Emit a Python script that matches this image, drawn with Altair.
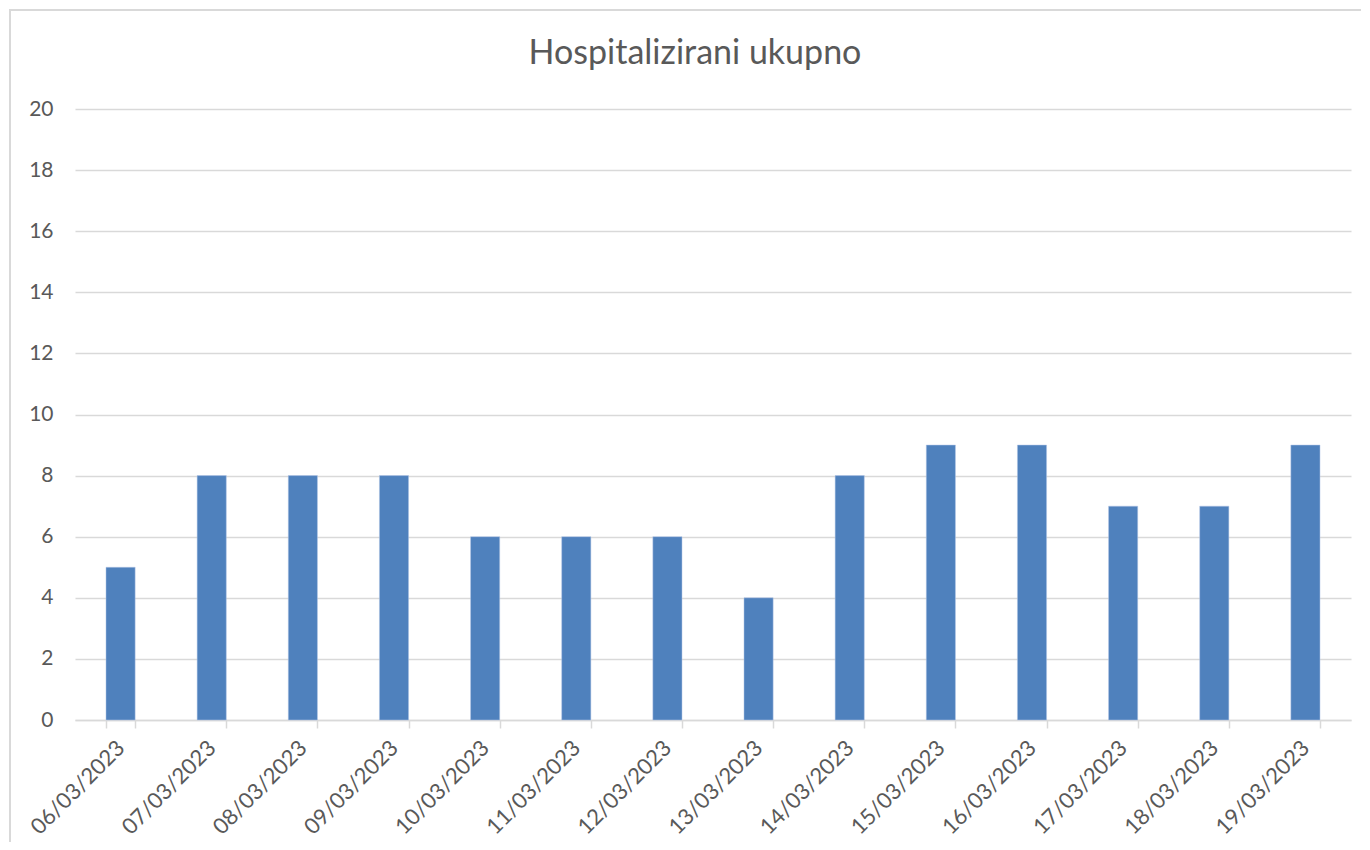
import altair as alt
import pandas as pd

dates = ["06/03/2023", "07/03/2023", "08/03/2023", "09/03/2023", "10/03/2023",
         "11/03/2023", "12/03/2023", "13/03/2023", "14/03/2023", "15/03/2023",
         "16/03/2023", "17/03/2023", "18/03/2023", "19/03/2023"]
values = [5, 8, 8, 8, 6, 6, 6, 4, 8, 9, 9, 7, 7, 9]
title_text = "Hospitalizirani ukupno"

df = pd.DataFrame({"date": dates, "value": values})

FONT = "Lato"
GREY = "#595959"
LINE = "#d9d9d9"

bars = alt.Chart(df).mark_bar(color="#4F81BD", stroke="#b4c7e7", strokeWidth=0.5).encode(
    x=alt.X("date:N", sort=dates, title=None,
            scale=alt.Scale(paddingInner=0.68, paddingOuter=0.34),
            axis=alt.Axis(labelAngle=-45, labelAlign="right", labelBaseline="middle",
                          labelFont=FONT, labelFontSize=22, labelColor=GREY,
                          labelPadding=16, tickBand="extent", ticks=True, tickSize=8,
                          tickColor=LINE, domainColor=LINE, domainWidth=1.5,
                          tickWidth=1.5, grid=False, labelOverlap=False)),
    y=alt.Y("value:Q", title=None,
            scale=alt.Scale(domain=[0, 20], nice=False),
            axis=alt.Axis(values=list(range(0, 21, 2)), domain=False, ticks=False,
                          labelFont=FONT, labelFontSize=21, labelColor=GREY,
                          labelPadding=22, gridColor=LINE, gridWidth=1.5)),
)

border = alt.Chart(df).mark_rect(fill="transparent", stroke=LINE, strokeWidth=1.5, clip=False).encode(
    x=alt.value(-65), x2=alt.value(1400), y=alt.value(-99), y2=alt.value(900)
)

title = alt.Chart(pd.DataFrame({"t": [title_text]})).mark_text(
    font=FONT, fontSize=34, color=GREY, align="center", baseline="middle"
).encode(text="t:N", x=alt.value(620), y=alt.value(-55))

chart = alt.layer(border, bars, title).properties(
    width=1276, height=611,
    autosize=alt.AutoSizeParams(type="none"),
    padding={"left": 67, "top": 101, "right": 10, "bottom": 122},
).configure(background="white").configure_view(stroke=None)

chart.save("out.html", embed_options={"renderer": "svg", "actions": False})
